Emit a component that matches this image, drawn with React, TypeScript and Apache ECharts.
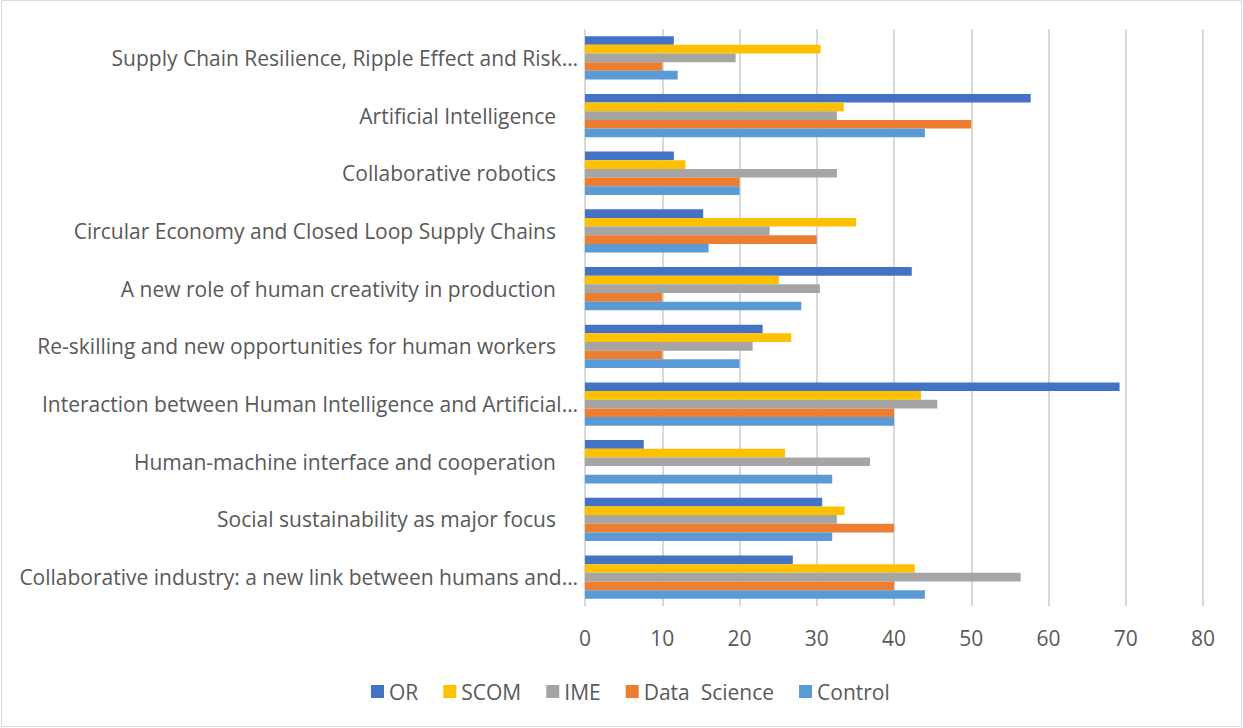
import React, { useEffect, useRef } from "react";
import * as echarts from "echarts";

const categories = [
  "Supply Chain Resilience, Ripple Effect and Risk…",
  "Artificial Intelligence",
  "Collaborative robotics",
  "Circular Economy and Closed Loop Supply Chains",
  "A new role of human creativity in production",
  "Re-skilling and new opportunities for human workers",
  "Interaction between Human Intelligence and Artificial…",
  "Human-machine interface and cooperation",
  "Social sustainability as major focus",
  "Collaborative industry: a new link between humans and…",
];

const seriesNames = ["OR", "SCOM", "IME", "Data  Science", "Control"];
const seriesColors = ["#4472C4", "#FFC000", "#A5A5A5", "#ED7D31", "#5B9BD5"];

const orValues = [11.5, 57.7, 11.5, 15.3, 42.3, 23, 69.2, 7.6, 30.7, 26.9];
const scomValues = [30.5, 33.5, 13, 35.1, 25.1, 26.7, 43.5, 25.9, 33.6, 42.7];
const imeValues = [19.5, 32.6, 32.6, 23.9, 30.4, 21.7, 45.6, 36.9, 32.6, 56.4];
const dataScienceValues = [10, 50, 20, 30, 10, 10, 40, 0, 40, 40];
const controlValues = [12, 44, 20, 16, 28, 20, 40, 32, 32, 44];

const xTicks = { min: 0, max: 80, interval: 10 };

const FONT = "'Open Sans', 'Noto Sans', sans-serif";
const TEXT = "#595959";
const FS = 21;

export default function App() {
  const ref = useRef<HTMLDivElement>(null);
  useEffect(() => {
    document.body.style.margin = "0";
    const chart = echarts.init(ref.current!, null, { renderer: "svg" });
    const allValues = [orValues, scomValues, imeValues, dataScienceValues, controlValues];
    chart.setOption({
      animation: false,
      backgroundColor: "#ffffff",
      textStyle: { fontFamily: FONT, color: TEXT },
      graphic: [
        {
          type: "rect",
          shape: { x: 1.5, y: 0.5, width: 1240, height: 726 },
          style: { fill: "none", stroke: "#d9d9d9", lineWidth: 1 },
          silent: true,
        },
      ],
      grid: { left: 585, right: 40, top: 29, bottom: 122 },
      legend: {
        data: seriesNames,
        left: 366,
        top: 676,
        itemWidth: 13,
        itemHeight: 13,
        itemGap: 25,
        icon: "rect",
        textStyle: { fontFamily: FONT, fontSize: FS, color: TEXT },
      },
      xAxis: {
        type: "value",
        min: xTicks.min,
        max: xTicks.max,
        interval: xTicks.interval,
        axisLine: { show: false },
        axisTick: { show: false },
        splitLine: { show: true, lineStyle: { color: "#d9d9d9", width: 2 } },
        axisLabel: { fontFamily: FONT, fontSize: FS, color: TEXT, margin: 21 },
      },
      yAxis: {
        type: "category",
        data: categories,
        inverse: true,
        axisLine: { show: true, lineStyle: { color: "#d9d9d9", width: 1 } },
        axisTick: { show: false },
        axisLabel: {
          fontFamily: FONT,
          fontSize: FS,
          color: TEXT,
          margin: 7,
          formatter: (v: string) => (v.endsWith("…") ? `{e|${v}}` : `{n|${v}}`),
          rich: {
            e: { fontFamily: FONT, fontSize: FS, color: TEXT },
            n: { fontFamily: FONT, fontSize: FS, color: TEXT, padding: [0, 22, 0, 0] },
          },
        },
      },
      series: seriesNames.map((name, i) => ({
        name,
        type: "bar",
        data: allValues[i],
        itemStyle: { color: seriesColors[i] },
        barGap: "0%",
        barCategoryGap: "25%",
      })),
    });
    return () => chart.dispose();
  }, []);
  return <div ref={ref} style={{ width: 1243, height: 728 }} />;
}
